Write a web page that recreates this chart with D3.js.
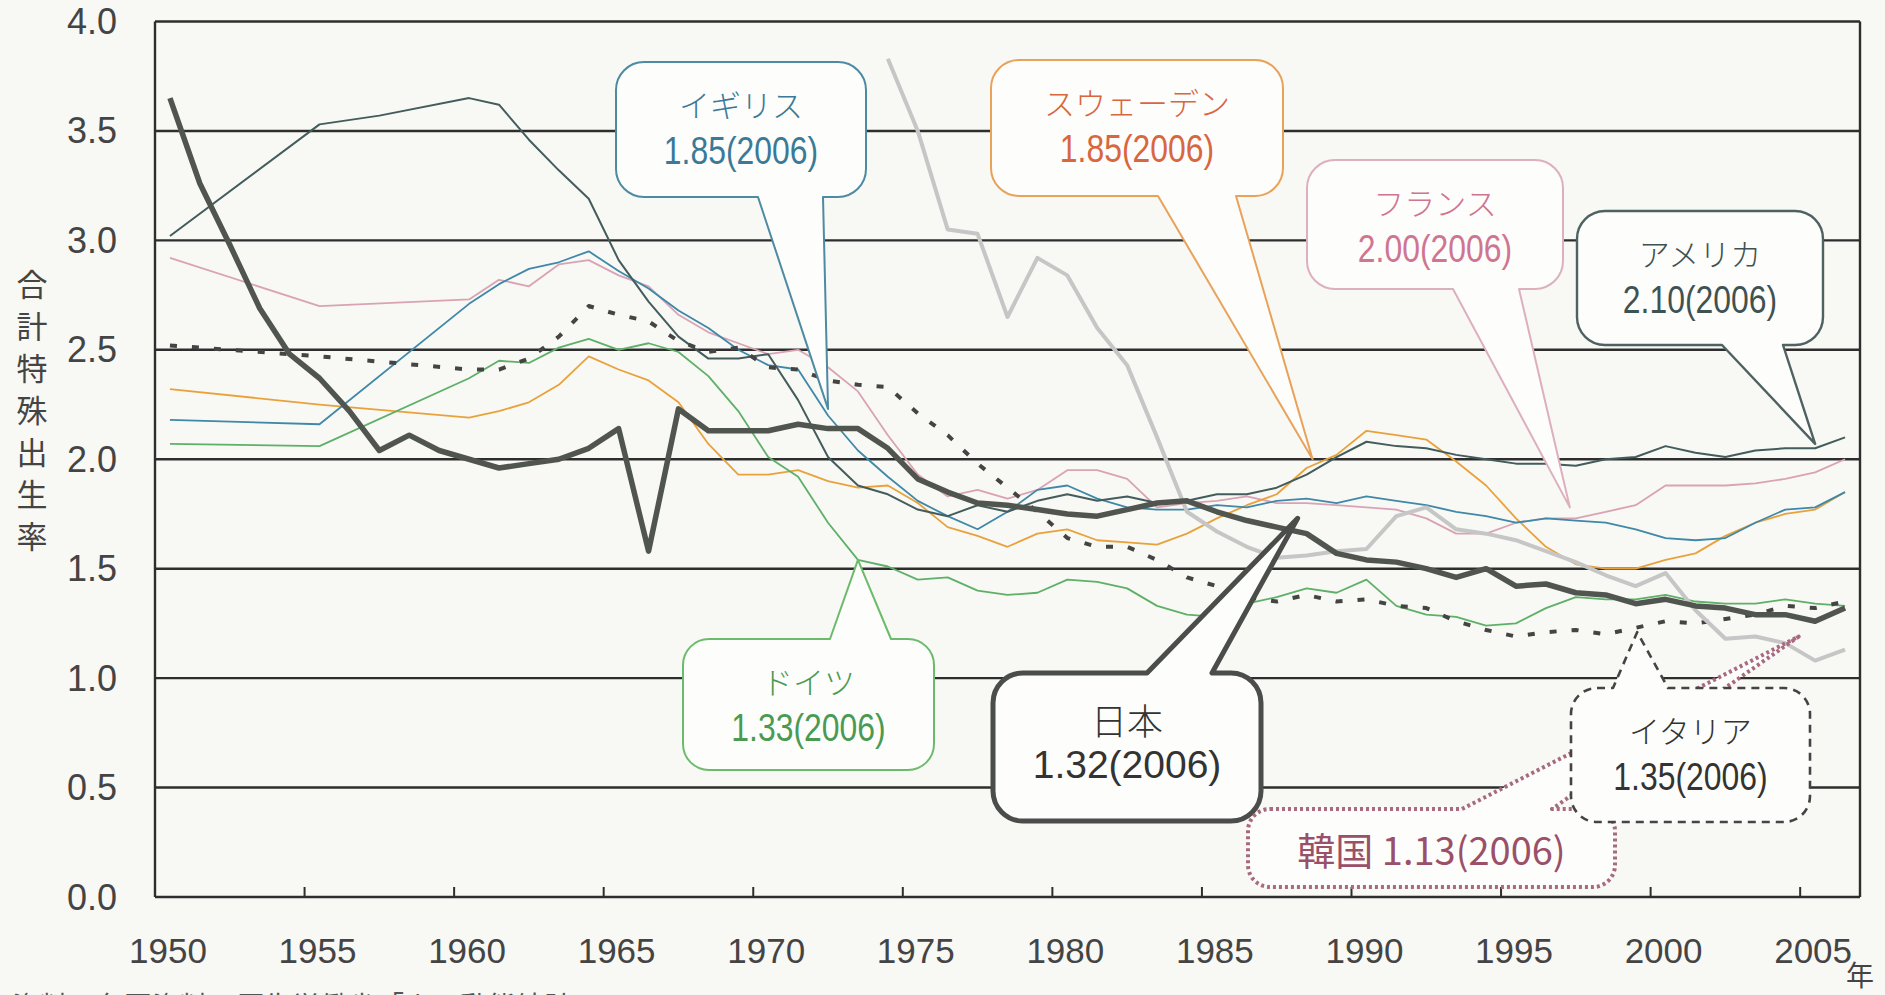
<!DOCTYPE html>
<html>
<head>
<meta charset="utf-8">
<script src="https://cdn.jsdelivr.net/npm/d3@7"></script>
<style>
  html, body { margin: 0; padding: 0; background: #f8f8f4; }
  svg { display: block; }
</style>
</head>
<body>
<svg id="chart" width="1885" height="995"></svg>
<script>
// ── Data: total fertility rate, 1950–2006 ─────────────────────────────────────
const annualYears = d3.range(1961, 2007);

const japanYears = d3.range(1950, 2007);
const japanTFR = [3.65, 3.26, 2.98, 2.69, 2.48, 2.37, 2.22, 2.04, 2.11, 2.04,
  2.00, 1.96, 1.98, 2.00, 2.05, 2.14, 1.58, 2.23, 2.13, 2.13,
  2.13, 2.16, 2.14, 2.14, 2.05, 1.91, 1.85, 1.80, 1.79, 1.77,
  1.75, 1.74, 1.77, 1.80, 1.81, 1.76, 1.72, 1.69, 1.66, 1.57,
  1.54, 1.53, 1.50, 1.46, 1.50, 1.42, 1.43, 1.39, 1.38, 1.34,
  1.36, 1.33, 1.32, 1.29, 1.29, 1.26, 1.32];

const usaYears = [1950, 1955, 1957, 1960, ...annualYears];
const usaTFR = [3.02, 3.53, 3.57, 3.65,
  3.62, 3.46, 3.32, 3.19, 2.91, 2.72, 2.56, 2.46, 2.46, 2.48,
  2.27, 2.01, 1.88, 1.84, 1.77, 1.74, 1.79, 1.76, 1.81, 1.84,
  1.81, 1.83, 1.80, 1.81, 1.84, 1.84, 1.87, 1.93, 2.01, 2.08,
  2.06, 2.05, 2.02, 2.00, 1.98, 1.98, 1.97, 2.00, 2.01, 2.06,
  2.03, 2.01, 2.04, 2.05, 2.05, 2.10];

const earlyYears = [1950, 1955, 1960, ...annualYears];

const ukTFR = [2.18, 2.16, 2.71,
  2.80, 2.87, 2.90, 2.95, 2.86, 2.78, 2.68, 2.60, 2.50, 2.43,
  2.41, 2.20, 2.04, 1.92, 1.81, 1.74, 1.68, 1.76, 1.86, 1.88,
  1.82, 1.78, 1.77, 1.77, 1.79, 1.78, 1.81, 1.82, 1.80, 1.83,
  1.81, 1.79, 1.76, 1.74, 1.71, 1.73, 1.72, 1.71, 1.68, 1.64,
  1.63, 1.64, 1.71, 1.77, 1.78, 1.85];

const franceTFR = [2.92, 2.70, 2.73,
  2.82, 2.79, 2.89, 2.91, 2.84, 2.79, 2.66, 2.58, 2.53, 2.48,
  2.50, 2.42, 2.31, 2.11, 1.93, 1.83, 1.86, 1.82, 1.86, 1.95,
  1.95, 1.91, 1.78, 1.80, 1.81, 1.83, 1.80, 1.80, 1.79, 1.78,
  1.77, 1.73, 1.66, 1.66, 1.71, 1.73, 1.73, 1.76, 1.79, 1.88,
  1.88, 1.88, 1.89, 1.91, 1.94, 2.00];

const swedenTFR = [2.32, 2.25, 2.19,
  2.22, 2.26, 2.34, 2.47, 2.41, 2.36, 2.26, 2.07, 1.93, 1.93,
  1.95, 1.90, 1.87, 1.88, 1.80, 1.69, 1.65, 1.60, 1.66, 1.68,
  1.63, 1.62, 1.61, 1.66, 1.73, 1.79, 1.84, 1.96, 2.02, 2.13,
  2.11, 2.09, 1.99, 1.88, 1.73, 1.60, 1.52, 1.50, 1.50, 1.54,
  1.57, 1.65, 1.71, 1.75, 1.77, 1.85];

const germanyTFR = [2.07, 2.06, 2.37,
  2.45, 2.44, 2.51, 2.55, 2.50, 2.53, 2.49, 2.38, 2.22, 2.01,
  1.92, 1.71, 1.54, 1.51, 1.45, 1.46, 1.40, 1.38, 1.39, 1.45,
  1.44, 1.41, 1.33, 1.29, 1.28, 1.34, 1.37, 1.41, 1.39, 1.45,
  1.33, 1.29, 1.28, 1.24, 1.25, 1.32, 1.37, 1.36, 1.36, 1.38,
  1.35, 1.34, 1.34, 1.36, 1.34, 1.33];

const italyTFR = [2.52, 2.47, 2.41,
  2.41, 2.46, 2.56, 2.70, 2.66, 2.63, 2.54, 2.49, 2.51, 2.42,
  2.41, 2.36, 2.34, 2.33, 2.21, 2.11, 1.98, 1.87, 1.76, 1.64,
  1.60, 1.60, 1.54, 1.46, 1.42, 1.37, 1.35, 1.38, 1.35, 1.36,
  1.33, 1.32, 1.26, 1.22, 1.19, 1.21, 1.22, 1.20, 1.23, 1.26,
  1.25, 1.27, 1.29, 1.33, 1.32, 1.35];

const koreaYears = d3.range(1974, 2007);
const koreaTFR = [3.83, 3.50, 3.05, 3.03, 2.65, 2.92, 2.84, 2.60, 2.43, 2.10,
  1.76, 1.67, 1.60, 1.55, 1.56, 1.58, 1.59, 1.74, 1.78, 1.68,
  1.66, 1.63, 1.58, 1.53, 1.47, 1.42, 1.48, 1.31, 1.18, 1.19,
  1.16, 1.08, 1.13];

const xTickLabels = d3.range(1950, 2006, 5);
const yTickValues = d3.range(0, 4.01, 0.5);
const yTitle = "合計特殊出生率";

// ── Layout ────────────────────────────────────────────────────────────────────
const plot = { left: 155, right: 1860, top: 21.5, bottom: 897 };

const x = d3.scaleLinear().domain([1949.5, 2006.5]).range([plot.left, plot.right]);
const y = d3.scaleLinear().domain([0, 4]).range([plot.bottom, plot.top]);

const svg = d3.select("#chart");
const NUM_FONT = "'Liberation Sans', Arial, sans-serif";
const JP_FONT = "'Noto Sans CJK JP', 'Noto Sans', sans-serif";

// ── Grid + frame ──────────────────────────────────────────────────────────────
const grid = svg.append("g");
grid.selectAll("line.h").data(yTickValues).join("line")
  .attr("x1", plot.left).attr("x2", plot.right)
  .attr("y1", d => y(d)).attr("y2", d => y(d))
  .attr("stroke", "#2e2e2e").attr("stroke-width", 2.4);

[plot.left, plot.right].forEach(px => {
  grid.append("line")
    .attr("x1", px).attr("x2", px)
    .attr("y1", plot.top).attr("y2", plot.bottom)
    .attr("stroke", "#2e2e2e").attr("stroke-width", 2.4);
});

// category ticks (between categories, every 5 years), pointing inwards
grid.selectAll("line.t").data(d3.range(1954.5, 2006, 5)).join("line")
  .attr("x1", d => x(d)).attr("x2", d => x(d))
  .attr("y1", plot.bottom).attr("y2", plot.bottom - 10)
  .attr("stroke", "#2e2e2e").attr("stroke-width", 2);

// ── Axis labels ───────────────────────────────────────────────────────────────
svg.append("g").selectAll("text").data(yTickValues).join("text")
  .attr("x", 117).attr("y", d => y(d))
  .attr("text-anchor", "end").attr("dominant-baseline", "central")
  .attr("font-family", NUM_FONT).attr("font-size", 36).attr("fill", "#444")
  .text(d => d.toFixed(1));

svg.append("g").selectAll("text").data(xTickLabels).join("text")
  .attr("x", d => x(d) - 2).attr("y", 963)
  .attr("text-anchor", "middle")
  .attr("font-family", NUM_FONT).attr("font-size", 35).attr("fill", "#444")
  .text(d => d);

svg.append("g").selectAll("text").data(Array.from(yTitle)).join("text")
  .attr("x", 32).attr("y", (d, i) => 282 + i * 42)
  .attr("text-anchor", "middle").attr("dominant-baseline", "central")
  .attr("font-family", JP_FONT).attr("font-size", 31).attr("fill", "#444")
  .text(d => d);

svg.append("text").attr("x", 1860).attr("y", 974)
  .attr("text-anchor", "middle").attr("dominant-baseline", "central")
  .attr("font-family", JP_FONT).attr("font-size", 28).attr("fill", "#444")
  .text("年");

svg.append("text").attr("x", 12).attr("y", 1017)
  .attr("font-family", JP_FONT).attr("font-size", 28).attr("fill", "#555")
  .text("資料：各国資料、厚生労働省「人口動態統計」");

// ── Series ────────────────────────────────────────────────────────────────────
const series = [
  { name: "フランス", years: earlyYears, values: franceTFR, color: "#d9a3b5", width: 1.8 },
  { name: "スウェーデン", years: earlyYears, values: swedenTFR, color: "#e9a23b", width: 1.8 },
  { name: "ドイツ", years: earlyYears, values: germanyTFR, color: "#5eb068", width: 1.8 },
  { name: "イギリス", years: earlyYears, values: ukTFR, color: "#3f88a8", width: 1.8 },
  { name: "アメリカ", years: usaYears, values: usaTFR, color: "#435c5c", width: 2 },
  { name: "イタリア", years: earlyYears, values: italyTFR, color: "#444", width: 4, dash: "7,15" },
  { name: "韓国", years: koreaYears, values: koreaTFR, color: "#c6c6c6", width: 4 },
  { name: "日本", years: japanYears, values: japanTFR, color: "#505550", width: 5.5 },
];

const line = d3.line().x(d => x(d[0])).y(d => y(d[1]));

svg.append("g").selectAll("path").data(series).join("path")
  .attr("d", s => line(d3.zip(s.years, s.values)))
  .attr("fill", "none")
  .attr("stroke", s => s.color)
  .attr("stroke-width", s => s.width)
  .attr("stroke-dasharray", s => s.dash || null)
  .attr("stroke-linejoin", "round");

// ── Callouts ──────────────────────────────────────────────────────────────────
function calloutPath(b, side, base, tip) {
  const { x: bx, y: by, w, h, r } = b;
  const p = d3.path();
  p.moveTo(bx + r, by);
  if (side === "top") { p.lineTo(base[0], by); p.lineTo(tip[0], tip[1]); p.lineTo(base[1], by); }
  p.arcTo(bx + w, by, bx + w, by + h, r);
  p.arcTo(bx + w, by + h, bx, by + h, r);
  if (side === "bottom") { p.lineTo(base[1], by + h); p.lineTo(tip[0], tip[1]); p.lineTo(base[0], by + h); }
  p.arcTo(bx, by + h, bx, by, r);
  p.arcTo(bx, by, bx + w, by, r);
  p.closePath();
  return p.toString();
}

const callouts = [
  { label: "イギリス", value: "1.85(2006)", box: { x: 616, y: 62, w: 250, h: 135, r: 28 },
    side: "bottom", base: [758, 823], tip: [1972.0, 2.23],
    stroke: "#4d8aa3", sw: 2, text: "#3a7a98" },
  { label: "スウェーデン", value: "1.85(2006)", box: { x: 991, y: 60, w: 292, h: 136, r: 28 },
    side: "bottom", base: [1158, 1236], tip: [1988.2, 2.0],
    stroke: "#e9a25a", sw: 2, text: "#d8663f" },
  { label: "フランス", value: "2.00(2006)", box: { x: 1307, y: 160, w: 256, h: 129, r: 28 },
    side: "bottom", base: [1453, 1519], tip: [1996.8, 1.78],
    stroke: "#dcb0bf", sw: 2, text: "#cf7592" },
  { label: "アメリカ", value: "2.10(2006)", box: { x: 1577, y: 211, w: 246, h: 134, r: 28 },
    side: "bottom", base: [1722, 1783], tip: [2005.0, 2.07],
    stroke: "#4f6262", sw: 2.4, text: "#3f5252" },
  { label: "ドイツ", value: "1.33(2006)", box: { x: 683, y: 639, w: 251, h: 131, r: 26 },
    side: "top", base: [830, 891], tip: [1973.0, 1.54],
    stroke: "#6cbb6c", sw: 2, text: "#4a9a52" },
  { label: "日本", value: "1.32(2006)", box: { x: 993, y: 673, w: 268, h: 148, r: 30 },
    side: "top", base: [1147, 1212], tip: [1987.7, 1.73],
    stroke: "#4a4d4a", sw: 5, text: "#333", big: true },
  { label: "韓国 1.13(2006)", box: { x: 1248, y: 809, w: 367, h: 78, r: 22 },
    side: "top", base: [1462, 1552], tip: [2004.45, 1.19],
    stroke: "#a86a80", sw: 4, dash: "3,3", text: "#9a5068", single: true },
  { label: "イタリア", value: "1.35(2006)", box: { x: 1571, y: 688, w: 239, h: 134, r: 26 },
    side: "top", base: [1613, 1668], tip: [1999.05, 1.21],
    stroke: "#444", sw: 2.6, dash: "8,6", text: "#333" },
];

const cg = svg.append("g").selectAll("g").data(callouts).join("g");

cg.append("path")
  .attr("d", c => calloutPath(c.box, c.side, c.base, [x(c.tip[0]), y(c.tip[1])]))
  .attr("fill", "#fdfdfb")
  .attr("stroke", c => c.stroke)
  .attr("stroke-width", c => c.sw)
  .attr("stroke-dasharray", c => c.dash || null)
  .attr("stroke-linejoin", "round");

cg.filter(c => c.single).append("text")
  .attr("x", c => c.box.x + c.box.w / 2).attr("y", c => c.box.y + c.box.h / 2)
  .attr("text-anchor", "middle").attr("dominant-baseline", "central")
  .attr("font-family", JP_FONT + "," + NUM_FONT).attr("font-size", 38)
  .attr("fill", c => c.text)
  .text(c => c.label);

const twoLine = cg.filter(c => !c.single);
twoLine.append("text")
  .attr("x", c => c.box.x + c.box.w / 2).attr("y", c => c.box.y + (c.big ? 46 : 41))
  .attr("text-anchor", "middle").attr("dominant-baseline", "central")
  .attr("font-family", JP_FONT).attr("font-size", c => c.big ? 36 : 31)
  .attr("font-weight", 300)
  .attr("fill", c => c.text)
  .text(c => c.label);

// value line: condensed (narrow) digits, except the Japan box
twoLine.append("text")
  .attr("transform", c => `translate(${c.box.x + c.box.w / 2},${c.box.y + (c.big ? 91 : 88)}) scale(${c.big ? 1 : 0.84},1)`)
  .attr("text-anchor", "middle").attr("dominant-baseline", "central")
  .attr("font-family", NUM_FONT).attr("font-size", c => c.big ? 39 : 38)
  .attr("fill", c => c.text)
  .text(c => c.value);
</script>
</body>
</html>
